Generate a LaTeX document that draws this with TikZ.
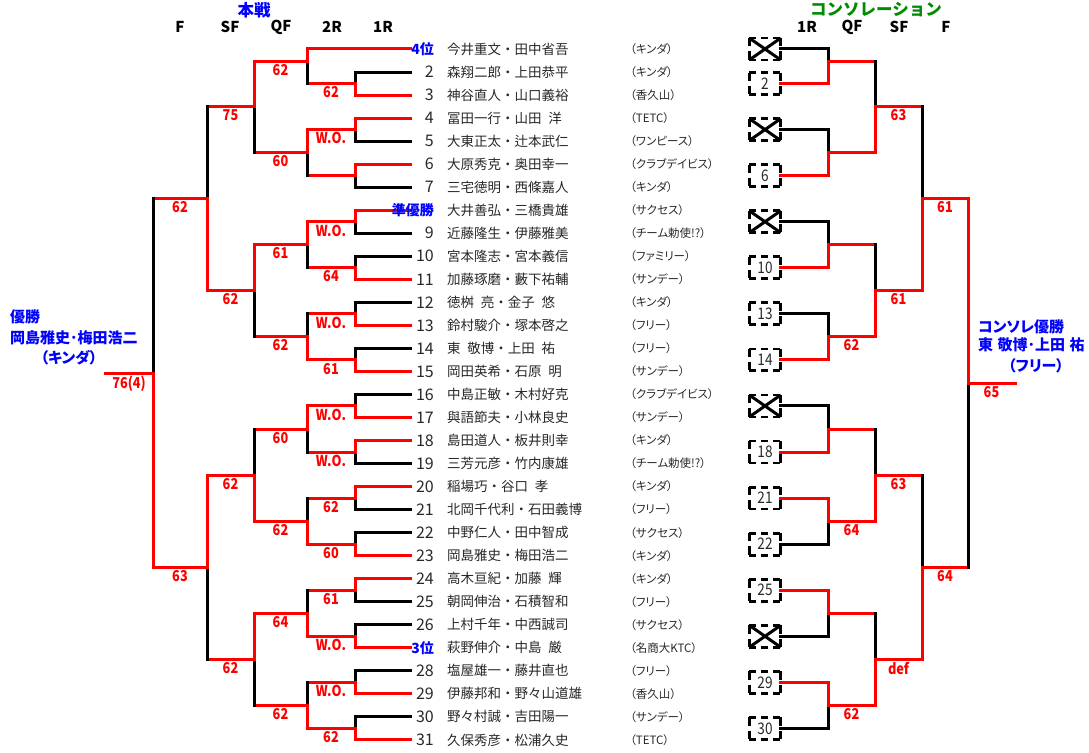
\documentclass[tikz,border=0pt]{standalone}
\usepackage{fontspec}
\usepackage{graphicx}
\setmainfont{Noto Sans CJK JP}
\newfontfamily\jpprop[RawFeature=+palt]{Noto Sans CJK JP}
\definecolor{titlegreen}{RGB}{0,140,0}
\definecolor{inkgray}{RGB}{40,40,40}
\newcommand{\nar}[1]{\scalebox{0.85}[1]{#1}}
% one match: name, top in, bottom in, pos of out, step to next, top style, bottom style, score
\newcommand{\game}[8]{%
  \path (#2) -- coordinate[pos=#4] (#1) (#3);
  \path (#1) ++(#5,0) coordinate (#1n);
  \draw[#6] (#2) -- (#1);
  \draw[#7] (#3) -- (#1);
  \draw[win] (#1) -- node[score] {\nar{#8}} (#1n);
}
\newcommand{\slotbox}[1]{%
  \draw[hdash] (#1.north west) -- (#1.north east);
  \draw[hdash] (#1.south west) -- (#1.south east);
  \draw[vdash] (#1.north west) -- (#1.south west);
  \draw[vdash] (#1.north east) -- (#1.south east);
}
\begin{document}
\begin{tikzpicture}[x=1pt, y=-1pt,
    win/.style={draw=red, line width=3pt, line cap=rect},
    lose/.style={draw=black, line width=3pt, line cap=rect},
    score/.style={below=1.5pt, inner sep=0pt, text=red, font=\fontsize{15}{15}\selectfont\bfseries},
    head/.style={inner sep=0pt, font=\fontsize{15}{15}\selectfont\bfseries},
    title/.style={inner sep=0pt, font=\fontsize{16.5}{16.5}\selectfont\bfseries},
    num/.style={anchor=east, inner sep=0pt, text=inkgray, font=\fontsize{16}{16}\selectfont},
    rank/.style={anchor=east, inner sep=0pt, text=blue, font=\fontsize{14}{14}\selectfont\bfseries},
    pname/.style={anchor=west, inner sep=0pt, text=inkgray, font=\fontsize{13.5}{13.5}\selectfont},
    team/.style={anchor=west, inner sep=0pt, text=inkgray, font=\jpprop\fontsize{11.5}{11.5}\selectfont},
    champ/.style={inner sep=0pt, text=blue, font=\jpprop\fontsize{15}{15}\selectfont\bfseries},
    slot/.style={minimum width=31pt, minimum height=21.5pt, inner sep=0pt, text=inkgray, font=\fontsize{16}{16}\selectfont},
    hdash/.style={line width=2.8pt, dash pattern=on 7pt off 5pt},
    vdash/.style={line width=2.8pt, dash pattern=on 8.25pt off 5pt},
    cross/.style={line width=3pt}]
  \useasboundingbox (0,0) rectangle (1089,752);

  % titles
  \node[title, text=blue] (main) at (254,10) {本戦};
  \node[title, text=titlegreen] (cons) at (876,10) {コンソレーション};
  \node[head] (hF) at (180,27) {F};
  \node[head] (hSF) at (230,27) {SF};
  \node[head] (hQF) at (281,27) {QF};
  \node[head] (h2R) at (332,27) {2R};
  \node[head] (h1R) at (383,27) {1R};
  \node[head] (c1R) at (807,27) {1R};
  \node[head] (cQF) at (852,27) {QF};
  \node[head] (cSF) at (899,27) {SF};
  \node[head] (cF) at (946,27) {F};

  % entries
  \foreach \i/\c/\n/\s/\name/\team in {
      1/win/4位/rank/今井重文・田中省吾/キンダ,
      2/lose/2/num/森翔二郎・上田恭平/キンダ,
      3/win/3/num/神谷直人・山口義裕/香久山,
      4/win/4/num/冨田一行・山田\enspace 洋/TETC,
      5/lose/5/num/大東正太・辻本武仁/ワンピース,
      6/win/6/num/大原秀克・奥田幸一/クラブデイビス,
      7/lose/7/num/三宅徳明・西條嘉人/キンダ,
      8/win/準優勝/rank/大井善弘・三橋貴雄/サクセス,
      9/lose/9/num/近藤隆生・伊藤雅美/チーム勅使!?,
      10/lose/10/num/宮本隆志・宮本義信/ファミリー,
      11/win/11/num/加藤琢磨・藪下祐輔/サンデー,
      12/lose/12/num/徳桝\enspace 亮・金子\enspace 悠/キンダ,
      13/win/13/num/鈴村駿介・塚本啓之/フリー,
      14/lose/14/num/東\enspace 敬博・上田\enspace 祐/フリー,
      15/win/15/num/岡田英希・石原\enspace 明/サンデー,
      16/lose/16/num/中島正敏・木村好克/クラブデイビス,
      17/win/17/num/與語節夫・小林良史/サンデー,
      18/win/18/num/島田道人・板井則幸/キンダ,
      19/lose/19/num/三芳元彦・竹内康雄/チーム勅使!?,
      20/win/20/num/稲場巧・谷口\enspace 孝/キンダ,
      21/lose/21/num/北岡千代利・石田義博/フリー,
      22/lose/22/num/中野仁人・田中智成/サクセス,
      23/win/23/num/岡島雅史・梅田浩二/キンダ,
      24/win/24/num/高木亘紀・加藤\enspace 輝/キンダ,
      25/lose/25/num/朝岡伸治・石積智和/フリー,
      26/lose/26/num/上村千年・中西誠司/サクセス,
      27/win/3位/rank/萩野伸介・中島\enspace 厳/名商大KTC,
      28/lose/28/num/塩屋雄一・藤井直也/フリー,
      29/win/29/num/伊藤邦和・野々山道雄/香久山,
      30/lose/30/num/野々村誠・吉田陽一/サンデー,
      31/win/31/num/久保秀彦・松浦久史/TETC}{
    \pgfmathsetmacro{\y}{49+(\i-1)*23.03}
    \pgfmathsetmacro{\fx}{ifthenelse(\i==1,307,355)}
    \coordinate (e\i) at (410,\y);
    \coordinate (f\i) at (\fx,\y);
    \draw[\c] (e\i) -- (f\i);
    \node[\s] (n\i) at (434,\y) {\n};
    \node[pname] (p\i) at (447,\y) {\name};
    \node[team] (t\i) at (630,\y) {（\team）};
  }

  % 1R
  \game{a1}{f2}{f3}{0.5}{-48}{lose}{win}{62}
  \game{a2}{f4}{f5}{0.5}{-48}{win}{lose}{W.O.}
  \game{a3}{f6}{f7}{0.5}{-48}{win}{lose}{}
  \game{a4}{f8}{f9}{0.5}{-48}{win}{lose}{W.O.}
  \game{a5}{f10}{f11}{0.5}{-48}{lose}{win}{64}
  \game{a6}{f12}{f13}{0.5}{-48}{lose}{win}{W.O.}
  \game{a7}{f14}{f15}{0.5}{-48}{lose}{win}{61}
  \game{a8}{f16}{f17}{0.5}{-48}{lose}{win}{W.O.}
  \game{a9}{f18}{f19}{0.5}{-48}{win}{lose}{W.O.}
  \game{a10}{f20}{f21}{0.5}{-48}{win}{lose}{62}
  \game{a11}{f22}{f23}{0.5}{-48}{lose}{win}{60}
  \game{a12}{f24}{f25}{0.5}{-48}{win}{lose}{61}
  \game{a13}{f26}{f27}{0.5}{-48}{lose}{win}{W.O.}
  \game{a14}{f28}{f29}{0.5}{-48}{lose}{win}{W.O.}
  \game{a15}{f30}{f31}{0.5}{-48}{lose}{win}{62}
  % 2R
  \game{b1}{f1}{a1n}{0.348}{-53}{win}{lose}{62}
  \game{b2}{a2n}{a3n}{0.5}{-53}{win}{lose}{60}
  \game{b3}{a4n}{a5n}{0.5}{-53}{win}{lose}{61}
  \game{b4}{a6n}{a7n}{0.5}{-53}{lose}{win}{62}
  \game{b5}{a8n}{a9n}{0.5}{-53}{win}{lose}{60}
  \game{b6}{a10n}{a11n}{0.5}{-53}{lose}{win}{62}
  \game{b7}{a12n}{a13n}{0.5}{-53}{lose}{win}{64}
  \game{b8}{a14n}{a15n}{0.5}{-53}{lose}{win}{62}
  % QF
  \game{c1}{b1n}{b2n}{0.5}{-47}{win}{lose}{75}
  \game{c2}{b3n}{b4n}{0.5}{-47}{win}{lose}{62}
  \game{c3}{b5n}{b6n}{0.5}{-47}{lose}{win}{62}
  \game{c4}{b7n}{b8n}{0.5}{-47}{win}{lose}{62}
  % SF, F
  \game{d1}{c1n}{c2n}{0.5}{-54}{lose}{win}{62}
  \game{d2}{c3n}{c4n}{0.5}{-54}{win}{lose}{63}
  \game{fin}{d1n}{d2n}{0.473}{-48}{lose}{win}{76(4)}

  % consolation slots
  \foreach \k/\c/\lab in {1/lose/{}, 2/win/2, 3/lose/{}, 4/win/6, 5/lose/{},
      6/win/10, 7/lose/13, 8/win/14, 9/lose/{}, 10/win/18, 11/win/21,
      12/lose/22, 13/win/25, 14/lose/{}, 15/win/29, 16/lose/30}{
    \pgfmathsetmacro{\y}{ifthenelse(\k==1,49,49+(2*\k-2.5)*23.03)}
    \node[slot] (box\k) at (765,\y) {\nar{\lab}};
    \slotbox{box\k}
    \coordinate (g\k) at (828,\y);
    \draw[\c] (box\k.east) -- (g\k);
  }
  \foreach \k in {1,3,5,9,14}
    \draw[cross] (box\k.north west) -- (box\k.south east)
                 (box\k.south west) -- (box\k.north east);

  \game{q1}{g1}{g2}{0.348}{47}{lose}{win}{}
  \game{q2}{g3}{g4}{0.5}{47}{lose}{win}{}
  \game{q3}{g5}{g6}{0.5}{47}{lose}{win}{}
  \game{q4}{g7}{g8}{0.5}{47}{lose}{win}{62}
  \game{q5}{g9}{g10}{0.5}{47}{lose}{win}{}
  \game{q6}{g11}{g12}{0.5}{47}{win}{lose}{64}
  \game{q7}{g13}{g14}{0.5}{47}{win}{lose}{}
  \game{q8}{g15}{g16}{0.5}{47}{win}{lose}{62}
  \game{r1}{q1n}{q2n}{0.5}{47}{lose}{win}{63}
  \game{r2}{q3n}{q4n}{0.5}{47}{lose}{win}{61}
  \game{r3}{q5n}{q6n}{0.5}{47}{lose}{win}{63}
  \game{r4}{q7n}{q8n}{0.5}{47}{lose}{win}{def}
  \game{s1}{r1n}{r2n}{0.5}{46}{lose}{win}{61}
  \game{s2}{r3n}{r4n}{0.5}{46}{lose}{win}{64}
  \game{cfin}{s1n}{s2n}{0.5}{47}{win}{lose}{65}

  % winners
  \node[champ, anchor=west] (win1) at (10,317) {優勝};
  \node[champ, anchor=west] (win2) at (10,338) {岡島雅史･梅田浩二};
  \node[champ] (win3) at (69,358) {（キンダ）};
  \node[champ, anchor=west] (cwin1) at (978,327) {コンソレ優勝};
  \node[champ, anchor=west] (cwin2) at (978,345) {東\hspace{0.3em}敬博･上田\hspace{0.3em}祐};
  \node[champ] (cwin3) at (1036,366) {（フリー）};
\end{tikzpicture}
\end{document}
